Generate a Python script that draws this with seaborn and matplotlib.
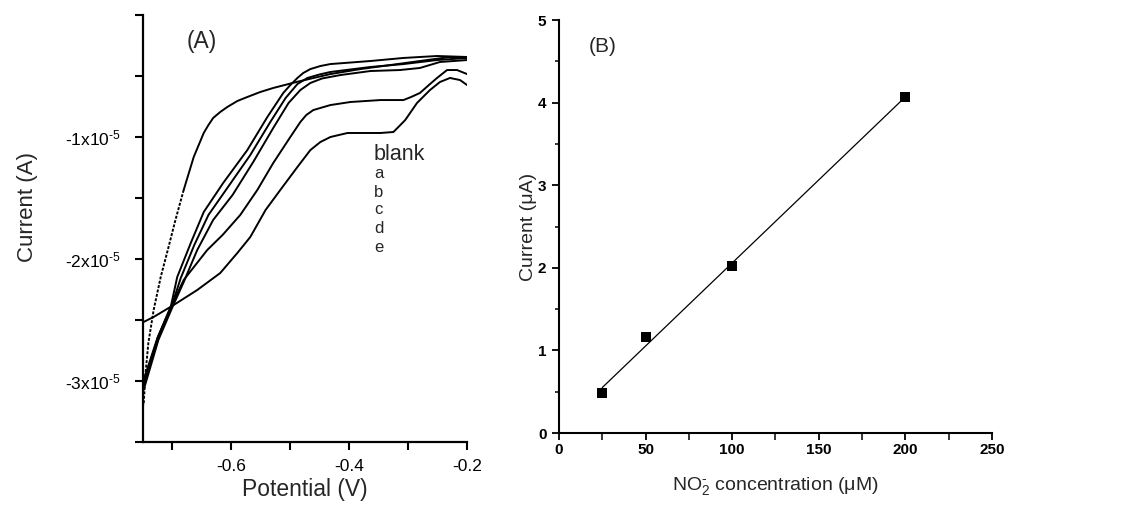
import numpy as np
import pandas as pd
import matplotlib
matplotlib.use("Agg")
import matplotlib.pyplot as plt
import seaborn as sns
from matplotlib.ticker import FixedLocator, FixedFormatter, MultipleLocator

# ---------------- Panel A data (potential in V, current in units of 1e-5 A) ----------------
CURRENT_UNIT = 1e-5

blank_v = [-0.200, -0.229, -0.280, -0.330, -0.381, -0.432, -0.488, -0.529, -0.551, -0.573,
           -0.590, -0.607, -0.619, -0.631, -0.639, -0.647, -0.664, -0.681, -0.695, -0.708,
           -0.720, -0.732, -0.741, -0.746, -0.749]
blank_i = [-0.352, -0.344, -0.377, -0.410, -0.443, -0.484, -0.547, -0.598, -0.631, -0.672,
           -0.705, -0.754, -0.795, -0.844, -0.902, -0.967, -1.164, -1.434, -1.680, -1.926,
           -2.148, -2.418, -2.689, -2.951, -3.197]

a_v = [-0.200, -0.251, -0.308, -0.364, -0.432, -0.449, -0.466, -0.478, -0.488, -0.500,
       -0.512, -0.539, -0.573, -0.614, -0.647, -0.669, -0.692, -0.703, -0.725, -0.749]
a_i = [-0.344, -0.336, -0.352, -0.377, -0.402, -0.418, -0.443, -0.475, -0.516, -0.574,
       -0.639, -0.836, -1.107, -1.377, -1.615, -1.869, -2.148, -2.393, -2.639, -2.992]

b_v = [-0.200, -0.251, -0.308, -0.364, -0.432, -0.451, -0.471, -0.488, -0.508, -0.534,
       -0.568, -0.607, -0.639, -0.663, -0.686, -0.702, -0.725, -0.749]
b_i = [-0.352, -0.369, -0.402, -0.426, -0.467, -0.488, -0.516, -0.566, -0.680, -0.877,
       -1.148, -1.418, -1.639, -1.885, -2.156, -2.393, -2.648, -3.033]

c_v = [-0.200, -0.246, -0.280, -0.314, -0.364, -0.415, -0.446, -0.466, -0.483, -0.503,
       -0.529, -0.563, -0.598, -0.631, -0.658, -0.681, -0.700, -0.724, -0.749]
c_i = [-0.369, -0.385, -0.434, -0.451, -0.459, -0.492, -0.520, -0.557, -0.615, -0.721,
       -0.926, -1.205, -1.475, -1.680, -1.926, -2.189, -2.393, -2.664, -3.074]

d_v = [-0.200, -0.217, -0.234, -0.251, -0.263, -0.280, -0.295, -0.308, -0.347, -0.398,
       -0.432, -0.461, -0.473, -0.483, -0.500, -0.529, -0.556, -0.585, -0.615, -0.641,
       -0.681, -0.703, -0.725, -0.749]
d_i = [-0.484, -0.451, -0.451, -0.516, -0.566, -0.639, -0.672, -0.697, -0.697, -0.713,
       -0.738, -0.779, -0.820, -0.877, -1.000, -1.213, -1.434, -1.639, -1.803, -1.926,
       -2.172, -2.393, -2.648, -3.016]

e_v = [-0.200, -0.212, -0.229, -0.246, -0.263, -0.285, -0.305, -0.325, -0.347, -0.381,
       -0.403, -0.432, -0.449, -0.466, -0.488, -0.517, -0.542, -0.568, -0.590, -0.619,
       -0.658, -0.698, -0.732, -0.749]
e_i = [-0.574, -0.533, -0.516, -0.549, -0.615, -0.721, -0.861, -0.959, -0.967, -0.967,
       -0.967, -1.000, -1.041, -1.107, -1.246, -1.434, -1.598, -1.820, -1.951, -2.115,
       -2.254, -2.377, -2.475, -2.516]

curve_labels = ["blank", "a", "b", "c", "d", "e"]
y_ticks_a = [-1, -2, -3]

# ---------------- Panel B data ----------------
conc = [25, 50, 100, 200]              # uM
current_ua = [0.48, 1.16, 2.02, 4.07]  # uA

# ---------------- style ----------------
sns.set_style("ticks")
plt.rcParams["font.family"] = ["Liberation Sans", "DejaVu Sans"]
plt.rcParams["mathtext.fontset"] = "custom"
plt.rcParams["mathtext.rm"] = "Liberation Sans"
plt.rcParams["mathtext.it"] = "Liberation Sans:italic"
plt.rcParams["mathtext.bf"] = "Liberation Sans:bold"
plt.rcParams["axes.unicode_minus"] = False

fig = plt.figure(figsize=(11.37, 5.09), dpi=100)
axA = fig.add_axes([0.1258, 0.1316, 0.2850, 0.8389])
axB = fig.add_axes([0.4916, 0.1493, 0.3808, 0.8114])

# ---------------- Panel A ----------------
lw = 1.4
for v, i in [(a_v, a_i), (b_v, b_i), (c_v, c_i), (d_v, d_i), (e_v, e_i)]:
    sns.lineplot(x=v, y=np.array(i) * CURRENT_UNIT, ax=axA, color="black", lw=lw,
                 estimator=None, sort=False)
bv = np.array(blank_v)
bi = np.array(blank_i) * CURRENT_UNIT
split = int(np.argmax(bv <= -0.675))
sns.lineplot(x=bv[:split + 1], y=bi[:split + 1], ax=axA, color="black", lw=lw,
             estimator=None, sort=False)
sns.lineplot(x=bv[split:], y=bi[split:], ax=axA, color="black", lw=lw,
             estimator=None, sort=False, linestyle=(0, (1.5, 0.8)))

axA.set_xlim(-0.75, -0.2)
axA.set_ylim(-3.5 * CURRENT_UNIT, 0)
axA.xaxis.set_major_locator(FixedLocator([-0.7, -0.6, -0.5, -0.4, -0.3, -0.2]))
axA.xaxis.set_major_formatter(FixedFormatter(["", "-0.6", "", "-0.4", "", "-0.2"]))
yt = np.arange(-3.5, 0.01, 0.5)
axA.yaxis.set_major_locator(FixedLocator(yt * CURRENT_UNIT))
ylabels = []
for t in yt:
    if abs(t - round(t)) < 1e-9 and round(t) in y_ticks_a:
        ylabels.append(r"%dx10$^{\text{-5}}$" % round(t))
    else:
        ylabels.append("")
axA.yaxis.set_major_formatter(FixedFormatter(ylabels))
axA.tick_params(axis="both", direction="out", length=6, width=1.5, labelsize=12.5,
                colors="black")
axA.tick_params(axis="y", pad=10)
axA.tick_params(axis="x", pad=6)
for s in ["top", "right"]:
    axA.spines[s].set_visible(False)
for s in ["left", "bottom"]:
    axA.spines[s].set_linewidth(1.6)
    axA.spines[s].set_color("black")
axA.set_xlabel("Potential (V)", fontsize=16.5, labelpad=3)
axA.set_ylabel("Current (A)", fontsize=16)
axA.yaxis.set_label_coords(-0.325, 0.55)
axA.text(-0.651, -0.221 * CURRENT_UNIT, "(A)", fontsize=16.5, va="center", ha="center")

axA.text(-0.359, -1.19 * CURRENT_UNIT, curve_labels[0], fontsize=15.5, va="baseline")
letter_base = [-1.335, -1.492, -1.634, -1.790, -1.943]
for lab, yb in zip(curve_labels[1:], letter_base):
    axA.text(-0.358, yb * CURRENT_UNIT, lab, fontsize=12, va="baseline")

# ---------------- Panel B ----------------
sns.regplot(x=conc, y=current_ua, ax=axB, ci=None, color="black", marker="s",
            scatter_kws=dict(s=55, linewidths=0, alpha=1, zorder=3),
            line_kws=dict(lw=0.9, color="black"))
axB.set_xlim(0, 250)
axB.set_ylim(0, 5)
axB.xaxis.set_major_locator(MultipleLocator(50))
axB.xaxis.set_minor_locator(MultipleLocator(25))
axB.yaxis.set_major_locator(MultipleLocator(1))
axB.yaxis.set_minor_locator(MultipleLocator(0.5))
axB.tick_params(axis="both", which="major", direction="out", length=5, width=1.3,
                colors="black", pad=4)
axB.tick_params(axis="x", which="major", pad=2)
axB.tick_params(axis="x", which="minor", direction="out", length=5, width=1.3)
axB.tick_params(axis="y", which="minor", direction="out", length=3, width=1.3)
for lab in axB.get_xticklabels() + axB.get_yticklabels():
    lab.set_fontweight("bold")
    lab.set_fontsize(11)
for s in ["top", "right"]:
    axB.spines[s].set_visible(False)
for s in ["left", "bottom"]:
    axB.spines[s].set_linewidth(1.5)
    axB.spines[s].set_color("black")
axB.set_xlabel(r"NO$_2^{\text{-}}$ concentration (μM)", fontsize=14, labelpad=13)
axB.set_ylabel("Current (μA)", fontsize=14, labelpad=1)
axB.text(0.102, 0.935, "(B)", transform=axB.transAxes, fontsize=15,
         va="center", ha="center")

fig.savefig("out.png", dpi=100, facecolor="white")
